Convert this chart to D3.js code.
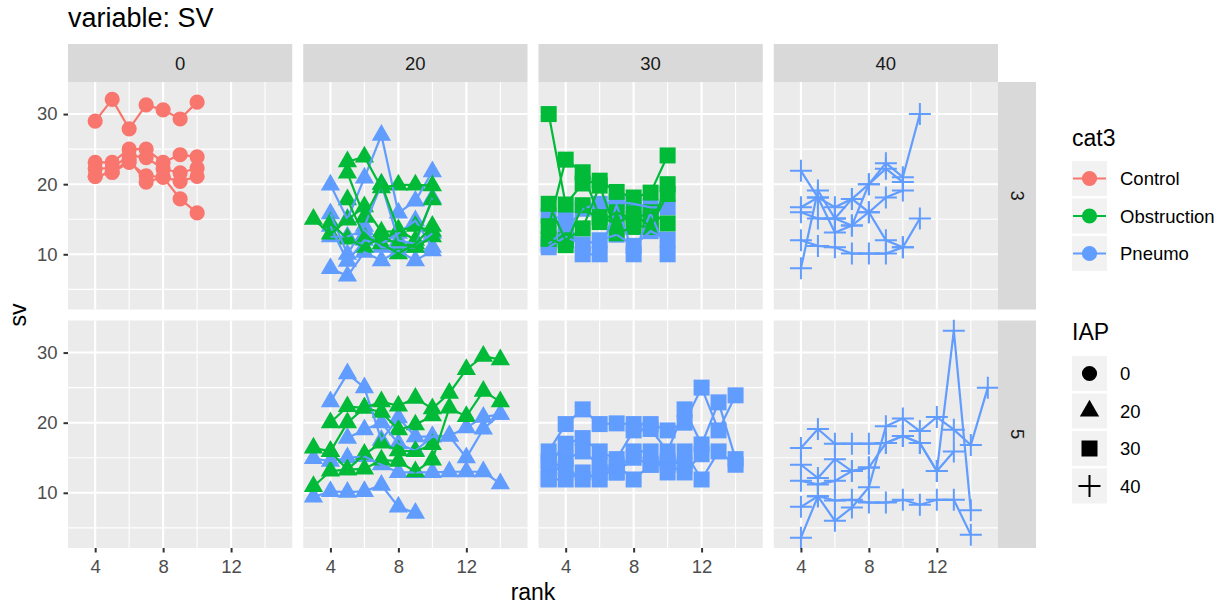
<!DOCTYPE html>
<html>
<head>
<meta charset="utf-8">
<script src="https://cdn.jsdelivr.net/npm/d3@7"></script>
<style>
  body { margin: 0; background: #fff; }
  text { font-family: "Liberation Sans", Arial, sans-serif; }
</style>
</head>
<body>
<svg id="chart" width="1228" height="607"></svg>
<script>
// facet levels, legend levels and ticks
var iapLevels = ["0", "20", "30", "40"];
var rowLevels = ["3", "5"];
var cat3Levels = ["Control", "Obstruction", "Pneumo"];
var cat3Colors = ["#F8766D", "#00BA38", "#619CFF"];
var xTicks = [4, 8, 12];
var xMinor = [6, 10, 14];
var yTicks = [10, 20, 30];
var yMinor = [5, 15, 25];

// each run: [first rank, sv values for consecutive ranks]
var iap0Row3Control = [
  [4, [29.0, 32.1, 27.9, 31.3, 30.6, 29.3, 31.7]],
  [4, [23.1, 23.1, 25.0, 25.0, 23.1, 24.2, 23.9]],
  [4, [22.2, 22.3, 24.1, 23.8, 22.2, 21.6, 22.3]],
  [4, [21.1, 21.7, 23.1, 21.2, 21.0, 17.9, 15.9]],
  [4, [21.1, 21.7, 23.5, 20.3, 21.0, 20.4, 21.1]]
];
var iap20Row3Obstruction = [
  [3, [15.0, 12.9, 14.9, 16.8, 13.2, 13.3, 14.0, 13.3]],
  [5, [23.2, 23.9, 19.5, 19.9, 19.9, 19.8]],
  [5, [21.6, 15.3, 20.0, 13.5, 12.0, 17.8]],
  [5, [17.8, 12.5, 11.5, 10.1, 11.5, 14.0]],
  [4, [14.5, 12.2, 11.0, 12.5, 11.5, 11.0, 12.5]]
];
var iap20Row3Pneumo = [
  [4, [19.9, 15.0, 20.9, 27.0, 15.9, 17.6, 21.8]],
  [4, [15.8, 10.0, 14.0, 20.0, 12.0, 11.5, 18.0]],
  [4, [8.0, 6.9, 10.3, 9.1, 10.5, 9.1, 10.5]],
  [4, [14.0, 9.0, 12.0, 11.5, 13.0, 14.8, 11.0]],
  [4, [12.5, 12.5, 13.5, 11.0, 11.0, 11.0, 13.0]]
];
var iap30Row3Obstruction = [
  [3, [30.0, 17.1, 20.1, 20.5, 18.9, 18.1, 18.8, 24.1]],
  [3, [14.0, 23.5, 21.7, 15.3, 14.4, 15.8, 13.9, 20.0]],
  [3, [17.2, 12.0, 13.7, 19.8, 13.0, 13.9, 14.0, 18.6]],
  [3, [12.2, 11.3, 17.0, 14.6, 16.0, 15.0, 16.0, 14.4]]
];
var iap30Row3Pneumo = [
  [3, [11.0, 12.5, 11.4, 12.0, 12.8, 11.2, 13.3, 12.1]],
  [3, [15.5, 15.0, 10.0, 10.0, 17.0, 10.0, 15.9, 10.0]],
  [3, [11.5, 13.5, 16.5, 17.2, 17.5, 17.2, 16.7, 16.7]]
];
var iap40Row3Pneumo = [
  [4, [21.9, 18.1, 13.1, 14.1, 16.0, 12.0, 11.0]],
  [4, [8.0, 19.1, 15.1, 17.9, 20.0, 23.0, 21.0, 30.0]],
  [4, [12.0, 11.2, 11.0, 10.1, 10.1, 10.1, 11.0, 15.1]],
  [4, [16.7, 18.1, 16.7, 17.9, 16.0, 18.1, 19.1]],
  [4, [16.0, 15.1, 15.1, 14.1, 20.0, 22.2, 20.3]]
];
var iap20Row5Obstruction = [
  [3, [16.4, 15.9, 20.0, 22.1, 23.0, 22.4, 23.5, 22.0, 24.2, 27.6, 29.5, 29.0]],
  [3, [10.9, 13.1, 13.3, 13.4, 14.7, 14.5, 13.0, 14.7, 22.1, 20.9, 24.5, 23.0]],
  [4, [20.0, 22.3, 22.1, 21.5, 19.0, 19.7, 21.0]],
  [4, [15.9, 13.3, 15.5, 17.1, 16.0, 15.9, 16.9]]
];
var iap20Row5Pneumo = [
  [3, [9.4, 10.2, 10.1, 10.2, 11.1, 8.0, 7.1]],
  [4, [23.0, 27.0, 25.0, 17.5, 20.7, 18.0, 18.0, 18.1, 19.3, 20.8, 21.2]],
  [3, [14.9, 14.5, 15.0, 15.2, 14.0, 12.9, 12.9, 12.9, 13.0, 13.0, 13.0, 11.3]],
  [5, [17.8, 19.0, 20.0, 17.0, 16.0, 18.0, 18.1, 15.0, 19.1, 21.2]]
];
var iap30Row5Pneumo = [
  [3, [15.9, 19.8, 21.9, 19.8, 19.9, 19.8, 19.8, 18.9, 20.0, 25.0, 18.9, 23.9]],
  [3, [14.0, 17.0, 17.8, 15.9, 14.8, 18.9, 19.1, 15.9, 21.9, 16.9, 22.9, 14.8]],
  [3, [12.0, 14.8, 15.9, 14.0, 12.9, 15.9, 15.9, 12.9, 15.9, 11.9, 15.9, 14.0]],
  [3, [11.9, 11.9, 12.9, 11.9, 14.0, 11.9, 14.0, 14.0, 12.9, 15.5]],
  [3, [14.5, 13.5, 11.9, 12.9, 12.9, 15.0, 14.0, 14.5, 14.0]]
];
var iap40Row5Pneumo = [
  [4, [3.6, 9.5, 6.0, 7.9, 10.8, 19.5, 20.6, 18.8, 20.8, 19.0, 16.8, 25.0]],
  [4, [16.4, 19.1, 17.0, 17.0, 17.0, 17.1, 18.1, 17.1, 13.1, 33.1, 7.5]],
  [4, [14.0, 12.1, 14.8, 13.1, 13.6, 17.1, 18.1, 17.1, 13.1, 15.9]],
  [4, [11.7, 11.2, 11.7, 13.1, 13.6]],
  [4, [8.0, 9.5, 8.9, 9.0, 8.6, 8.6, 9.0, 8.3, 9.0, 9.0, 4.0]]
];

// groups in drawing order (blue first, green over it)
var groups = [
  {iap: "0", row: "3", cat: "Control", runs: iap0Row3Control},
  {iap: "20", row: "3", cat: "Pneumo", runs: iap20Row3Pneumo},
  {iap: "20", row: "3", cat: "Obstruction", runs: iap20Row3Obstruction},
  {iap: "30", row: "3", cat: "Pneumo", runs: iap30Row3Pneumo},
  {iap: "30", row: "3", cat: "Obstruction", runs: iap30Row3Obstruction},
  {iap: "40", row: "3", cat: "Pneumo", runs: iap40Row3Pneumo},
  {iap: "20", row: "5", cat: "Pneumo", runs: iap20Row5Pneumo},
  {iap: "20", row: "5", cat: "Obstruction", runs: iap20Row5Obstruction},
  {iap: "30", row: "5", cat: "Pneumo", runs: iap30Row5Pneumo},
  {iap: "40", row: "5", cat: "Pneumo", runs: iap40Row5Pneumo}
];

var lines = [];
groups.forEach(function(g) {
  g.runs.forEach(function(run) {
    lines.push({
      iap: g.iap, row: g.row, cat: g.cat,
      pts: run[1].map(function(v, i) { return {rank: run[0] + i, sv: v}; })
    });
  });
});
var allPts = d3.merge(lines.map(function(l) { return l.pts; }));

function padded(ext) {
  var d = (ext[1] - ext[0]) * 0.05;
  return [ext[0] - d, ext[1] + d];
}

var panelLeft = 68, panelTop = 82, panelW = 224.25, panelH = 227.5, gap = 11, stripH = 38;
var tickFont = 18.5, titleFont = 23;

var x = d3.scaleLinear()
  .domain(padded(d3.extent(allPts, function(d) { return d.rank; })))
  .range([0, panelW]);
var y = d3.scaleLinear()
  .domain(padded(d3.extent(allPts, function(d) { return d.sv; })))
  .range([panelH, 0]);
var color = d3.scaleOrdinal().domain(cat3Levels).range(cat3Colors);

var shapeTypes = {
  "0": d3.symbol().type(d3.symbolCircle).size(181)(),
  "20": d3.symbol().type(d3.symbolTriangle).size(161)(),
  "30": d3.symbol().type(d3.symbolSquare).size(256)(),
  "40": "M-11,0H11M0,-11V11"
};

var svg = d3.select("#chart");

svg.append("text")
  .attr("x", 68).attr("y", 27)
  .attr("font-size", 27).attr("fill", "#000")
  .text("variable: SV");

function panelX(ci) { return panelLeft + ci * (panelW + gap); }
function panelY(ri) { return panelTop + ri * (panelH + gap); }

var line = d3.line()
  .x(function(d) { return x(d.rank); })
  .y(function(d) { return y(d.sv); });

function styleAxis(a) {
  a.select(".domain").remove();
  a.selectAll(".tick line").attr("stroke", "#333").attr("stroke-width", 2);
  a.selectAll(".tick text")
    .attr("fill", "#4D4D4D")
    .style("font-size", tickFont + "px")
    .style("font-family", "'Liberation Sans', Arial, sans-serif");
}

rowLevels.forEach(function(row, ri) {
  iapLevels.forEach(function(iap, ci) {
    var g = svg.append("g")
      .attr("transform", "translate(" + panelX(ci) + "," + panelY(ri) + ")");

    g.append("rect")
      .attr("width", panelW).attr("height", panelH)
      .attr("fill", "#EBEBEB");

    g.selectAll(".ymin").data(yMinor).enter().append("line")
      .attr("x1", 0).attr("x2", panelW)
      .attr("y1", y).attr("y2", y)
      .attr("stroke", "#fff").attr("stroke-width", 1.1);
    g.selectAll(".xmin").data(xMinor).enter().append("line")
      .attr("y1", 0).attr("y2", panelH)
      .attr("x1", x).attr("x2", x)
      .attr("stroke", "#fff").attr("stroke-width", 1.1);
    g.selectAll(".ymaj").data(yTicks).enter().append("line")
      .attr("x1", 0).attr("x2", panelW)
      .attr("y1", y).attr("y2", y)
      .attr("stroke", "#fff").attr("stroke-width", 2.1);
    g.selectAll(".xmaj").data(xTicks).enter().append("line")
      .attr("y1", 0).attr("y2", panelH)
      .attr("x1", x).attr("x2", x)
      .attr("stroke", "#fff").attr("stroke-width", 2.1);

    var here = lines.filter(function(l) { return l.iap === iap && l.row === row; });

    // points first, lines on top
    here.forEach(function(l) {
      var c = color(l.cat);
      g.append("g").selectAll("path").data(l.pts).enter().append("path")
        .attr("d", shapeTypes[iap])
        .attr("transform", function(d) { return "translate(" + x(d.rank) + "," + y(d.sv) + ")"; })
        .attr("fill", iap === "40" ? "none" : c)
        .attr("stroke", iap === "40" ? c : "none")
        .attr("stroke-width", 2);
    });
    here.forEach(function(l) {
      g.append("path")
        .datum(l.pts)
        .attr("d", line)
        .attr("fill", "none")
        .attr("stroke", color(l.cat))
        .attr("stroke-width", 2.2);
    });

    if (ci === 0) {
      var ya = g.append("g").call(d3.axisLeft(y).tickValues(yTicks).tickSize(4.5).tickPadding(6));
      styleAxis(ya);
    }
    if (ri === rowLevels.length - 1) {
      var xa = g.append("g").attr("transform", "translate(0," + panelH + ")")
        .call(d3.axisBottom(x).tickValues(xTicks).tickSize(4.5).tickPadding(7.5));
      styleAxis(xa);
    }
  });
});

// top strips
iapLevels.forEach(function(iap, ci) {
  svg.append("rect")
    .attr("x", panelX(ci)).attr("y", panelTop - stripH)
    .attr("width", panelW).attr("height", stripH)
    .attr("fill", "#D9D9D9");
  svg.append("text")
    .attr("x", panelX(ci) + panelW / 2).attr("y", panelTop - stripH / 2)
    .attr("text-anchor", "middle").attr("dominant-baseline", "central")
    .attr("font-size", tickFont).attr("fill", "#1A1A1A")
    .text(iap);
});

// right strips
var stripX = panelX(iapLevels.length - 1) + panelW;
rowLevels.forEach(function(row, ri) {
  svg.append("rect")
    .attr("x", stripX).attr("y", panelY(ri))
    .attr("width", stripH).attr("height", panelH)
    .attr("fill", "#D9D9D9");
  var cx = stripX + stripH / 2, cy = panelY(ri) + panelH / 2;
  svg.append("text")
    .attr("transform", "translate(" + cx + "," + cy + ") rotate(90)")
    .attr("text-anchor", "middle").attr("dominant-baseline", "central")
    .attr("font-size", tickFont).attr("fill", "#1A1A1A")
    .text(row);
});

// axis titles
svg.append("text")
  .attr("x", panelLeft + (stripX - panelLeft) / 2).attr("y", 600)
  .attr("text-anchor", "middle").attr("font-size", titleFont).attr("fill", "#000")
  .text("rank");
svg.append("text")
  .attr("transform", "translate(26," + (panelTop + (2 * panelH + gap) / 2) + ") rotate(-90)")
  .attr("text-anchor", "middle").attr("font-size", titleFont).attr("fill", "#000")
  .text("sv");

// legends
var legX = 1072, keySize = 35, keyStep = 37.5;

var leg1 = svg.append("g");
leg1.append("text").attr("x", legX).attr("y", 146)
  .attr("font-size", titleFont).attr("fill", "#000").text("cat3");
cat3Levels.forEach(function(cat, i) {
  var ky = 161 + i * keyStep;
  leg1.append("rect").attr("x", legX).attr("y", ky)
    .attr("width", keySize).attr("height", keySize).attr("fill", "#F2F2F2");
  leg1.append("line")
    .attr("x1", legX + 1).attr("x2", legX + keySize - 1)
    .attr("y1", ky + keySize / 2).attr("y2", ky + keySize / 2)
    .attr("stroke", color(cat)).attr("stroke-width", 2.2);
  leg1.append("path").attr("d", shapeTypes["0"])
    .attr("transform", "translate(" + (legX + keySize / 2) + "," + (ky + keySize / 2) + ")")
    .attr("fill", color(cat));
  leg1.append("text").attr("x", legX + 48).attr("y", ky + keySize / 2)
    .attr("dominant-baseline", "central")
    .attr("font-size", tickFont).attr("fill", "#000").text(cat);
});

var leg2 = svg.append("g");
leg2.append("text").attr("x", legX).attr("y", 340)
  .attr("font-size", titleFont).attr("fill", "#000").text("IAP");
iapLevels.forEach(function(iap, i) {
  var ky = 356 + i * keyStep;
  leg2.append("rect").attr("x", legX).attr("y", ky)
    .attr("width", keySize).attr("height", keySize).attr("fill", "#F2F2F2");
  leg2.append("path").attr("d", shapeTypes[iap])
    .attr("transform", "translate(" + (legX + keySize / 2) + "," + (ky + keySize / 2) + ")")
    .attr("fill", iap === "40" ? "none" : "#000")
    .attr("stroke", iap === "40" ? "#000" : "none")
    .attr("stroke-width", 2);
  leg2.append("text").attr("x", legX + 48).attr("y", ky + keySize / 2)
    .attr("dominant-baseline", "central")
    .attr("font-size", tickFont).attr("fill", "#000").text(iap);
});
</script>
</body>
</html>
